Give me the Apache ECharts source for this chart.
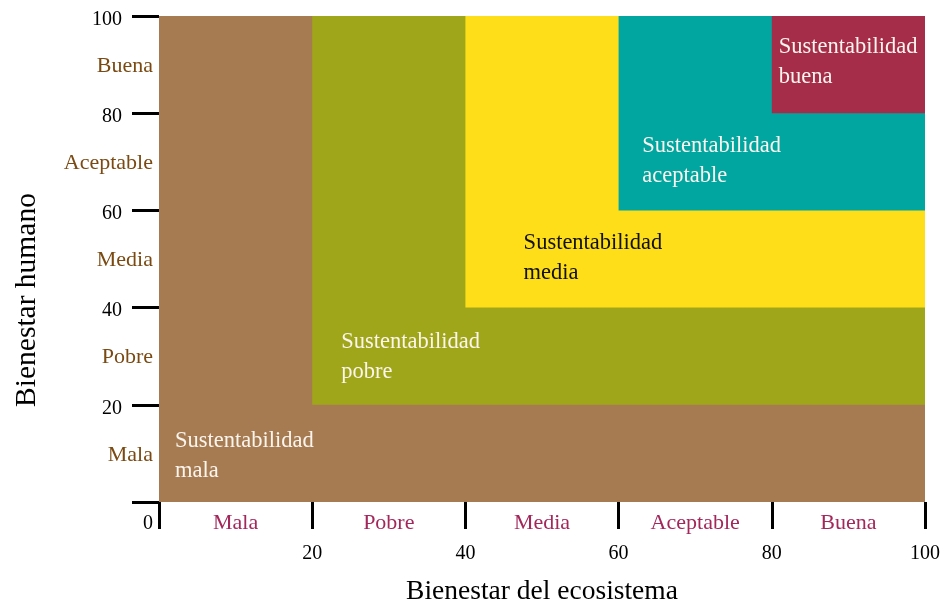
<!DOCTYPE html>
<html>
<head>
<meta charset="utf-8">
<script src="https://cdn.jsdelivr.net/npm/echarts@6/dist/echarts.min.js"></script>
<style>
html,body{margin:0;padding:0;background:#fff;}
#chart{width:943px;height:604px;}
</style>
</head>
<body>
<div id="chart"></div>
<script>
// ---- data ----
const levelCategories = ['Mala', 'Pobre', 'Media', 'Aceptable', 'Buena'];
const tickValues = [0, 20, 40, 60, 80, 100];
const zoneNames = ['Sustentabilidad\nmala', 'Sustentabilidad\npobre', 'Sustentabilidad\nmedia', 'Sustentabilidad\naceptable', 'Sustentabilidad\nbuena'];
const zoneStart = [0, 20, 40, 60, 80];   // lower-left corner (x = y) of each nested zone
const zoneEnd = [100, 100, 100, 100, 100];
const labelX = [2.1, 23.8, 47.6, 63.1, 80.9];
const labelY = [9.5, 29.8, 50.2, 70.2, 90.5];
const xTitle = 'Bienestar del ecosistema';
const yTitle = 'Bienestar humano';

// ---- styles ----
const zoneColors = ['#a67b52', '#a0a61a', '#fedd19', '#00a69f', '#a52d4a'];
const zoneTextColors = ['#fbf5ee', '#fbf5ee', '#111111', '#fbf5ee', '#fbf5ee'];
const FONT = '"Liberation Serif", "DejaVu Serif", serif';

const seriesData = zoneStart.map((s, i) => [s, zoneEnd[i], s, zoneEnd[i], labelX[i], labelY[i], i]);

const chart = echarts.init(document.getElementById('chart'), null, {renderer: 'canvas'});
const tickStyle = {show: true, length: 27, lineStyle: {color: '#000', width: 3}};

chart.setOption({
  animation: false,
  grid: {left: 159, right: 18, top: 16, bottom: 102, containLabel: false, outerBoundsMode: 'none'},
  xAxis: [
    {
      type: 'value', min: tickValues[0], max: tickValues[tickValues.length - 1], interval: 20,
      position: 'bottom',
      axisLine: {show: false}, splitLine: {show: false},
      axisTick: tickStyle,
      axisLabel: {
        margin: 42, color: '#000', fontFamily: FONT, fontSize: 20,
        formatter: v => (v === 0 ? '' : String(v))
      },
      name: xTitle, nameLocation: 'middle', nameGap: 76,
      nameTextStyle: {color: '#000', fontFamily: FONT, fontSize: 27.5}
    },
    {
      type: 'value', min: 0, max: 100, interval: 100,
      position: 'bottom',
      axisLine: {show: false}, splitLine: {show: false}, axisTick: {show: false},
      axisLabel: {
        margin: 12, color: '#000', fontFamily: FONT, fontSize: 20,
        alignMinLabel: 'right', padding: [0, 6, 0, 0],
        formatter: v => (v === 0 ? '0' : '')
      }
    },
    {
      type: 'category', data: levelCategories, boundaryGap: true,
      position: 'bottom',
      axisLine: {show: false}, splitLine: {show: false}, axisTick: {show: false},
      axisLabel: {margin: 10.5, color: '#a3275a', fontFamily: FONT, fontSize: 22, interval: 0}
    }
  ],
  yAxis: [
    {
      type: 'value', min: tickValues[0], max: tickValues[tickValues.length - 1], interval: 20,
      position: 'left',
      axisLine: {show: false}, splitLine: {show: false},
      axisTick: tickStyle,
      axisLabel: {
        margin: 37, color: '#000', fontFamily: FONT, fontSize: 20,
        verticalAlign: 'top', lineHeight: 7,
        formatter: v => (v === 0 ? '' : String(v))
      },
      name: yTitle, nameLocation: 'middle', nameGap: 117,
      nameTextStyle: {color: '#000', fontFamily: FONT, fontSize: 29.5, padding: [0, 82, 0, 0]}
    },
    {
      type: 'category', data: levelCategories, boundaryGap: true,
      position: 'left',
      axisLine: {show: false}, splitLine: {show: false}, axisTick: {show: false},
      axisLabel: {margin: 6, color: '#7a4a12', fontFamily: FONT, fontSize: 22, interval: 0,
        verticalAlign: 'top', lineHeight: 3}
    }
  ],
  series: [{
    type: 'custom',
    xAxisIndex: 0, yAxisIndex: 0,
    data: seriesData,
    renderItem: function (params, api) {
      const i = api.value(6);
      const p0 = api.coord([api.value(0), api.value(3)]);
      const p1 = api.coord([api.value(1), api.value(2)]);
      const lp = api.coord([api.value(4), api.value(5)]);
      return {
        type: 'group',
        children: [
          {
            type: 'rect',
            shape: {x: p0[0], y: p0[1], width: p1[0] - p0[0], height: p1[1] - p0[1]},
            style: {fill: zoneColors[i]}
          },
          {
            type: 'text', x: lp[0], y: lp[1], z2: 10,
            style: {
              text: zoneNames[i], fill: zoneTextColors[i],
              font: '22.5px ' + FONT, lineHeight: 30,
              align: 'left', verticalAlign: 'middle'
            }
          }
        ]
      };
    }
  }]
});
</script>
</body>
</html>
